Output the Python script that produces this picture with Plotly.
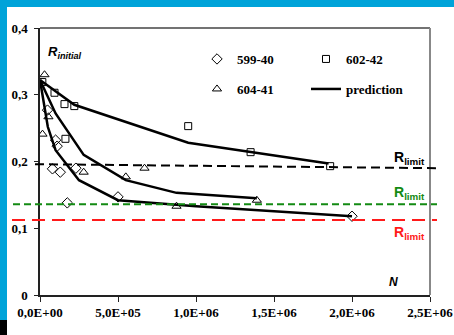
import plotly.graph_objects as go

# ---- data ----
n_599 = [4.8e4, 1.0e5, 1.1e5, 8.0e4, 1.3e5, 2.3e5, 1.75e5, 5.0e5, 2.0e6]
r_599 = [0.277, 0.232, 0.223, 0.189, 0.184, 0.190, 0.138, 0.147, 0.118]

n_602 = [1.5e4, 9.3e4, 1.57e5, 2.2e5, 1.63e5, 9.5e5, 1.35e6, 1.86e6]
r_602 = [0.319, 0.303, 0.286, 0.283, 0.234, 0.253, 0.214, 0.193]

n_604 = [2.9e4, 5.4e4, 1.6e4, 2.8e5, 5.5e5, 6.7e5, 8.75e5, 1.39e6]
r_604 = [0.330, 0.267, 0.241, 0.184, 0.177, 0.190, 0.133, 0.142]

pred_599_n = [0, 5e4, 1e5, 2.5e5, 5e5, 1e6, 2e6]
pred_599_r = [0.322, 0.252, 0.217, 0.172, 0.142, 0.133, 0.118]
pred_604_n = [0, 1e5, 2.8e5, 5.5e5, 8.75e5, 1.39e6]
pred_604_r = [0.322, 0.272, 0.210, 0.172, 0.153, 0.145]
pred_602_n = [0, 2.2e5, 9.5e5, 1.85e6]
pred_602_r = [0.322, 0.285, 0.228, 0.197]

r_limit_black = [0.196, 0.190]
r_limit_green = 0.136
r_limit_red = 0.1125

x_tickvals = [0, 5e5, 1e6, 1.5e6, 2e6, 2.5e6]
x_ticktext = ["0,0E+00", "5,0E+05", "1,0E+06", "1,5E+06", "2,0E+06", "2,5E+06"]
y_tickvals = [0, 0.1, 0.2, 0.3, 0.4]

# ---- layout geometry (pixels) ----
W, H = 454, 335
ML, MR, MT, MB = 40, 24, 28, 40
PW, PH = W - ML - MR, H - MT - MB


def px(xp):
    return (xp - ML) / PW


def py(yp):
    return (H - MB - yp) / PH


serif = "Liberation Serif"
sans = "Liberation Sans"

fig = go.Figure()
mk = dict(color="black", size=8, line=dict(width=1, color="black"))
fig.add_trace(go.Scatter(x=n_599, y=r_599, mode="markers", name="599-40",
                         marker=dict(symbol="diamond-open", **mk), legend="legend"))
fig.add_trace(go.Scatter(x=n_602, y=r_602, mode="markers", name="602-42",
                         marker=dict(symbol="square-open", **{**mk, "size": 7}), legend="legend"))
fig.add_trace(go.Scatter(x=n_604, y=r_604, mode="markers", name="604-41",
                         marker=dict(symbol="triangle-up-open", **mk), legend="legend2"))
for i, (xs, ys) in enumerate([(pred_602_n, pred_602_r), (pred_604_n, pred_604_r), (pred_599_n, pred_599_r)]):
    fig.add_trace(go.Scatter(x=xs, y=ys, mode="lines", name="prediction",
                             line=dict(color="black", width=2.5),
                             showlegend=(i == 0), legend="legend2"))

shapes = []
# frame
shapes.append(dict(type="line", xref="paper", yref="paper", x0=0, x1=1, y0=1, y1=1,
                   line=dict(color="#444444", width=1.5)))
shapes.append(dict(type="line", xref="paper", yref="paper", x0=1, x1=1, y0=0, y1=1,
                   line=dict(color="#888888", width=2)))
# limit lines
shapes.append(dict(type="line", xref="paper", yref="y", x0=px(35), x1=px(437),
                   y0=r_limit_black[0], y1=r_limit_black[1],
                   line=dict(color="black", width=2, dash="9px,5px")))
shapes.append(dict(type="line", xref="paper", yref="y", x0=px(13), x1=px(437),
                   y0=r_limit_green, y1=r_limit_green,
                   line=dict(color="#138a13", width=2, dash="7px,4px")))
shapes.append(dict(type="line", xref="paper", yref="y", x0=px(12), x1=px(437),
                   y0=r_limit_red, y1=r_limit_red,
                   line=dict(color="#ff1a1a", width=2, dash="13px,7px")))
# border strips
shapes.append(dict(type="rect", xref="paper", yref="paper", x0=px(0), x1=px(W), y0=py(0), y1=py(7),
                   fillcolor="#00a3d9", line=dict(width=0), layer="below"))
shapes.append(dict(type="rect", xref="paper", yref="paper", x0=px(0), x1=px(7), y0=py(0), y1=py(320),
                   fillcolor="#00a3d9", line=dict(width=0), layer="below"))
shapes.append(dict(type="rect", xref="paper", yref="paper", x0=px(0), x1=px(7), y0=py(320), y1=py(H),
                   fillcolor="#000000", line=dict(width=0), layer="below"))

annotations = [
    dict(text="<b><i>R<sub>initial</sub></i></b>", xref="paper", yref="paper", x=px(46), y=py(52),
         xanchor="left", yanchor="middle", showarrow=False, font=dict(family=sans, size=13, color="black")),
    dict(text="<b><i>N</i></b>", xref="paper", yref="paper", x=px(393), y=py(282),
         xanchor="center", yanchor="middle", showarrow=False, font=dict(family=sans, size=12, color="black")),
    dict(text="<b>R<sub>limit</sub></b>", xref="paper", yref="paper", x=px(392), y=py(158),
         xanchor="left", yanchor="middle", showarrow=False, font=dict(family=sans, size=14, color="black")),
    dict(text="<b>R<sub>limit</sub></b>", xref="paper", yref="paper", x=px(392), y=py(193),
         xanchor="left", yanchor="middle", showarrow=False, font=dict(family=sans, size=14, color="#138a13")),
    dict(text="<b>R<sub>limit</sub></b>", xref="paper", yref="paper", x=px(392), y=py(233),
         xanchor="left", yanchor="middle", showarrow=False, font=dict(family=sans, size=14, color="#ff1a1a")),
]

leg_common = dict(orientation="h", xanchor="left", yanchor="middle", entrywidth=64,
                  entrywidthmode="pixels", bgcolor="rgba(0,0,0,0)", borderwidth=0,
                  font=dict(family=serif, size=13, color="black", weight="bold"))

fig.update_layout(
    template="none",
    width=W, height=H,
    margin=dict(l=ML, r=MR, t=MT, b=MB, pad=0, autoexpand=False),
    paper_bgcolor="white", plot_bgcolor="white",
    separators=", ",
    shapes=shapes, annotations=annotations,
    legend=dict(x=px(197), y=py(59), **leg_common),
    legend2=dict(x=px(197), y=py(89), **leg_common),
    xaxis=dict(range=[0, 2.5e6], tickvals=x_tickvals, ticktext=x_ticktext, showgrid=False,
               automargin=False,
               zeroline=False, showline=True, linecolor="#222222", linewidth=1.5,
               ticks="outside", ticklen=5, tickcolor="#222222", tickwidth=1,
               tickfont=dict(family=serif, size=13, color="black", weight="bold")),
    yaxis=dict(range=[0, 0.4], tickvals=y_tickvals, showgrid=False, zeroline=False,
               automargin=False,
               showline=True, linecolor="#222222", linewidth=1.5,
               ticks="outside", ticklen=4, tickcolor="#222222", tickwidth=1,
               ticklabelstandoff=4,
               tickfont=dict(family=serif, size=13, color="black", weight="bold")),
)

fig.write_html(
    "out.html",
    config={"displayModeBar": False, "responsive": False},
    post_script=("document.documentElement.style.margin='0';document.body.style.margin='0';"
                 "document.documentElement.style.overflow='hidden';document.body.style.overflow='hidden';"),
)
